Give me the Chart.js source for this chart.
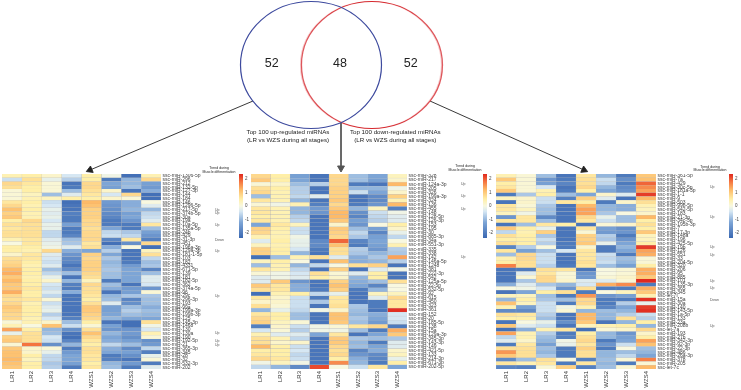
<!DOCTYPE html>
<html>
<head>
<meta charset="utf-8">
<script src="https://cdn.jsdelivr.net/npm/chart.js@4"></script>
<style>
html,body{margin:0;padding:0;background:#fff;overflow:hidden;}
#page{position:relative;width:741px;height:390px;}
canvas{position:absolute;}
</style>
</head>
<body>
<div id="page">
	<canvas id="overlay" width="741" height="390" style="left:0;top:0"></canvas>
	<canvas id="heatLeft" width="233" height="216" style="left:2px;top:174px"></canvas>
	<canvas id="heatMid" width="230" height="216" style="left:251px;top:174px"></canvas>
	<canvas id="heatRight" width="234" height="216" style="left:496px;top:174px"></canvas>
	<canvas id="barLeft" width="14" height="70" style="left:239px;top:174px"></canvas>
	<canvas id="barMid" width="14" height="70" style="left:483px;top:174px"></canvas>
	<canvas id="barRight" width="12" height="70" style="left:729px;top:174px"></canvas>
</div>
<script>
var sampleNames=['LR1','LR2','LR3','LR4','WZS1','WZS2','WZS3','WZS4'];
var legendTicks=[2,1,0,-1,-2];
var vennCounts=[52,48,52];

var leftGenes=['ssc-miR-1306-5p','ssc-miR-296','ssc-miR-212','ssc-miR-132-5p','ssc-miR-127-3p','ssc-miR-144','ssc-miR-184','ssc-miR-146','ssc-miR-1296-5p','ssc-miR-217-5p','ssc-miR-374b-5p','ssc-miR-30a','ssc-miR-19a','ssc-miR-10a-5p','ssc-miR-135a-5p','ssc-miR-24b','ssc-miR-429','ssc-miR-31-3p','ssc-miR-451','ssc-miR-196a-3p','ssc-miR-129a-3p','ssc-miR-181-1-5p','ssc-miR-103','ssc-miR-182','ssc-miR-4331','ssc-miR-671-5p','ssc-miR-139','ssc-miR-181','ssc-miR-182-5p','ssc-miR-362','ssc-miR-374a-5p','ssc-miR-96','ssc-miR-29c','ssc-miR-296-3p','ssc-miR-193','ssc-miR-99a','ssc-miR-199a-3p','ssc-miR-199b-3p','ssc-miR-125','ssc-miR-145-3p','ssc-miR-1468','ssc-miR-130','ssc-miR-130a','ssc-miR-190','ssc-miR-192-5p','ssc-miR-21','ssc-miR-365-3p','ssc-miR-345','ssc-miR-28','ssc-miR-32','ssc-miR-532-3p','ssc-miR-202'];
var midGenes=['ssc-miR-328','ssc-miR-217','ssc-miR-124a-3p','ssc-miR-205','ssc-miR-326','ssc-miR-199a-3p','ssc-miR-324','ssc-miR-136','ssc-miR-455','ssc-miR-148','ssc-miR-128-5p','ssc-miR-126-3p','ssc-miR-153','ssc-miR-195','ssc-miR-30','ssc-miR-885-3p','ssc-miR-34a','ssc-miR-551-3p','ssc-miR-335','ssc-miR-338','ssc-miR-142','ssc-miR-146a-5p','ssc-miR-1248','ssc-miR-381','ssc-miR-222-3p','ssc-miR-542','ssc-miR-125a-5p','ssc-miR-22-5p','ssc-miR-532-5p','ssc-miR-92','ssc-miR-615','ssc-miR-450','ssc-miR-323','ssc-miR-361','ssc-miR-152','ssc-miR-20','ssc-miR-185-5p','ssc-miR-138','ssc-miR-15a','ssc-miR-129a-3p','ssc-miR-345-3p','ssc-miR-143-3p','ssc-miR-149','ssc-miR-421-5p','ssc-miR-133','ssc-miR-214-3p','ssc-miR-671-3p','ssc-miR-202-5p'];
var rightGenes=['ssc-miR-361-5p','ssc-miR-7a','ssc-miR-429','ssc-miR-30c-5p','ssc-miR-181a-3p','ssc-miR-1-1','ssc-miR-9','ssc-miR-503','ssc-miR-99b-5p','ssc-miR-542-5p','ssc-miR-183','ssc-miR-21-3p','ssc-miR-34c-3p','ssc-miR-195b-3p','ssc-miR-7','ssc-miR-17-3p','ssc-miR-148a','ssc-miR-196','ssc-miR-425-5p','ssc-miR-19b','ssc-miR-126','ssc-miR-551','ssc-miR-33','ssc-miR-204-5p','ssc-miR-320','ssc-miR-206','ssc-miR-95','ssc-miR-885','ssc-miR-101','ssc-miR-135-3p','ssc-miR-365','ssc-miR-345','ssc-let-7i','ssc-miR-15a','ssc-miR-30a','ssc-miR-140','ssc-miR-143-5p','ssc-miR-1a-5p','ssc-miR-133','ssc-miR-23a','ssc-miR-208b','ssc-let-7a','ssc-miR-193','ssc-miR-27b','ssc-miR-342-3p','ssc-miR-92-3p','ssc-miR-22-3p','ssc-miR-486','ssc-miR-26a-3p','ssc-miR-378','ssc-miR-205','ssc-let-7c'];

var leftTrend=['','','','','','','','','','Up','Up','','','Up','','','','Down','','','Up','','','','','','','','','','','','Up','','','','','','','','','','Up','','Up','Up','','','','','',''];
var midTrend=['','','Up','','','Up','','','Up','','','','','','','','','','','','Up','','','','','','','','','','','','','','','','','','','','','','','','','','',''];
var rightTrend=['','','','Up','','','','','','','','Up','','','','','','','','Up','','Up','','','','','','','Up','','Up','','','Down','','','','','','','Up','','','','','','','','','','',''];

var leftValues=[
[0.4,0.5,0.2,-0.4,0.5,-0.1,-2.2,0.4],
[-0.5,0.7,-0.2,-0.7,0.5,-2,-1,0.8],
[0.8,0.6,0.1,-2.1,0.8,-1.2,-1,-1.3],
[0.7,0.5,0.1,-2,0.8,-1.3,-0.9,-1.4],
[0.1,0.5,0.1,-0.9,0.7,0.2,-2.1,-1.1],
[0.1,0.3,-0.9,-0.3,0.6,-0.4,0.8,-2.2],
[0.1,0.4,0.3,0.5,0.5,0.2,0.1,-2.2],
[0.6,0.5,-0.5,-2.2,1.2,-1.4,-1.1,0],
[0.8,0.4,-0.4,-2.1,1.1,-1.5,-1.1,-0.3],
[1.1,0.5,-0.2,-2.1,0.9,-1.6,-1,-1],
[0.9,0.4,-0.3,-1.9,0.9,-1.7,-1.3,-0.6],
[1,0.4,-0.2,-2,0.9,-1.8,-1.2,-0.5],
[0.5,0.8,-0.4,-2,0.8,-2,-1.5,-0.3],
[0.7,0.7,-0.2,-1.3,0.8,-2,-2,0.6],
[0.6,0.7,-0.2,-2,0.7,-1.2,-2,-0.9],
[0.7,0.7,-0.6,-2,0.8,-0.6,-0.8,-1.3],
[0.7,0.7,-0.6,-1.8,0.8,-0.5,-0.6,-1.5],
[0.4,0.6,-0.3,-0.9,0.8,-1.8,0.6,-1.9],
[0,0.6,-0.2,-0.8,0.6,-2.2,-1.6,0.8],
[0.5,0.5,-0.1,-0.3,0.7,-1.1,0,-2.2],
[0.5,0.4,0.8,-1.1,-1.2,-0.7,-2.1,0.3],
[0.2,0.6,-0.3,-1.5,0.9,-1.2,-2.1,0.7],
[0.7,0.6,-0.4,-1.7,0.8,-0.8,-2.1,-0.6],
[0.8,0.5,-0.5,-1.8,0.9,-1,-2,-0.9],
[0.9,0.4,-0.3,-2.1,0.9,-0.9,-1.4,-0.8],
[1.2,0.5,-0.9,-1.7,0.9,-0.8,-1.2,-1.8],
[1.3,0.5,-0.6,-0.9,0.8,-0.9,-1.2,-0.9],
[1,0.4,-0.2,-2.1,0.7,-0.9,-1.2,-0.3],
[1.2,0.5,0.2,-1,0.3,-2,-1.2,-0.3],
[1,0.5,-0.4,-1.9,0.8,-0.9,-2.1,-0.4],
[1,0.6,-0.5,-2,0.7,-1.1,-1.4,-1.5],
[1.3,0.5,-0.3,-1.1,0.7,-2.1,-1.3,0.1],
[0.8,0.5,-0.6,-2.1,0.6,-1,-0.8,-0.8],
[0.7,0.6,0.1,-2.1,0.5,-0.9,-1.8,-0.9],
[0.8,0.4,-0.5,-2.1,0.7,-0.3,-1.6,-0.9],
[1,0.5,-0.3,-2.1,1,-1.3,-0.9,-1.1],
[0.9,0.5,-0.2,-2.1,1,-1.3,-0.7,-0.9],
[0.8,0.5,-0.7,-2.1,0.9,-1.2,-0.9,-1],
[0.8,0.4,-0.4,-1.9,0.8,-1,-1.2,-1.2],
[0.1,0.4,0.2,-0.9,0.5,-2.1,-2.2,0.7],
[0.4,0,1.1,-0.5,0.1,-1.3,-2.2,-0.1],
[1.4,0.5,-1,-1.6,0.7,-1.5,-1.5,-0.4],
[-0.2,0.7,-0.9,-2.1,1.1,-1,-1.4,0.4],
[0.9,0.7,-0.4,-2.2,0.8,-1.2,-1.6,0.1],
[1,0.7,-0.5,-1.8,0.6,-1.1,-1.3,-1.6],
[0.1,1.8,-1.6,-1,0.5,-0.6,-0.9,-1.4],
[1,0.2,0.1,-2,0.7,-1.1,-1.7,-0.6],
[1.1,0.2,-0.2,-1.4,0.7,-1.2,-1.3,-1.9],
[1.1,0.5,-0.6,-1.2,0.6,-2,-1.6,-0.2],
[1.2,0.3,-0.6,-1.2,0.6,-1.9,-2.1,0.1],
[1.1,0.5,-0.8,-1.3,0.5,-1,-1.4,-2],
[1,0.5,-0.7,-2,0.6,-0.9,-2,-0.3]
];
var midValues=[
[0.8,0.5,-1.3,-2.1,0.8,-0.9,-1.2,0.3],
[1,0.5,-1.2,-2.1,0.8,-0.9,-1.3,0.2],
[0.1,0.2,-0.9,-0.7,0.8,-2,-2.1,1.2],
[0.7,0.5,-0.7,-2.1,0.9,-1,-1,-0.1],
[0.8,0.4,-0.7,-2.1,0.9,-0.5,-1.2,0.2],
[-0.9,0.4,-0.6,-0.3,0.9,-2.1,-1.7,0.9],
[0.6,0.4,-1,-2.1,1,-2.1,-1.7,0.4],
[0.1,-0.1,0.4,-1.9,0.8,-2,-1.5,1.2],
[0.6,0.4,-1,-1.4,1,-1,0.3,-1.9],
[0.6,0.4,-1,-1.5,1.2,-1.6,-0.5,-0.1],
[0.5,0.4,-0.7,-2.1,1.2,-1.8,-0.6,-0.3],
[0.6,0.4,-0.6,-2.1,1,-1.3,-0.7,-0.3],
[-1.2,0.6,0.3,-2.1,0.2,-1.5,0,0.5],
[0.9,0.5,-0.5,-2.1,1,-0.9,-1.3,0.2],
[0.8,0.4,-0.5,-2.1,0.9,-0.6,-1.8,-0.2],
[0.4,0.4,-0.1,-2.1,0.8,-0.8,-1.3,-0.6],
[-0.3,0.5,-0.2,-1.7,1.9,-1.8,-1.2,0],
[0.3,0.4,-0.2,-1.7,1.1,-2,-1.3,0.4],
[0.9,0.5,-0.4,-2,0.7,-0.7,-1.5,-0.7],
[0.9,0.5,-1,-2.1,0.7,-0.8,-1,-0.8],
[-2.2,-0.9,0.4,0.7,-0.3,-1.1,-0.8,1.4],
[0.3,0.5,0,-2.1,1.1,-1.1,-1,-0.7],
[-0.9,0.4,-1,-0.6,0,0.7,0.9,-2.1],
[0.6,0.4,-0.6,-2.1,0.9,-2.1,-0.3,-0.1],
[0.1,-0.1,-0.4,0.7,0.1,-0.3,0.5,-2.1],
[-0.3,-0.1,-0.3,0.5,0.2,-1,0.5,-2.1],
[-0.3,1,-1.5,-2.1,0.9,-1.1,-0.9,0.7],
[1,0.6,-1.1,-2.1,1.1,-1.2,-1.8,0],
[0.7,0.6,-1.1,-2,0.9,-2,-1,0],
[-2.2,0.4,0.5,-0.6,-0.2,-2.1,0.3,0.3],
[0.6,0.2,-0.5,-2,0.6,-2.1,-0.3,0.8],
[0.2,0.2,-0.5,-0.8,0.6,-2.1,-2,0.6],
[0.7,0.1,-0.5,-2.1,0.7,-0.8,-2,0.6],
[-1,-0.2,-0.6,-0.1,0.2,-0.9,-2.1,2.3],
[0.6,0.5,-0.9,-2.1,1.1,-1,-1.1,-0.4],
[0.8,0.5,-0.9,-2.1,1.1,-0.8,-1.2,-0.4],
[0.9,0.3,0.1,-2.1,1,-0.9,-1.4,-0.5],
[-1.9,0.2,-0.5,-0.1,0.1,0.6,0.8,-2],
[-0.4,0.1,-0.7,-0.1,-0.1,-0.9,-2,1.3],
[0.4,-0.3,-0.3,-1.2,0.6,-2.1,-1.2,1],
[0.7,0.4,-0.6,-2.1,1,-0.8,-0.9,-0.8],
[0.7,0.2,0.2,-2.1,1,-1,-2,-0.3],
[1.2,0.5,-0.5,-2.1,0.8,-0.9,-1.2,-0.3],
[0.5,0.5,-0.4,-2.1,0.7,-1.8,-1.1,0.2],
[0.6,0.5,-0.6,-2.1,0.8,-1.5,-1.7,0.3],
[0.8,0.6,-0.5,-2.1,0.5,-1.1,-1.8,-0.2],
[-0.1,0.3,-0.1,-2.1,1.6,-1,-2,0.5],
[-0.6,-1,-1.7,2.1,0,-0.5,0.6,-1.2]
];
var rightValues=[
[0.4,0.1,-0.9,-2.1,0.6,-1,-2,1],
[1,0.1,-1.5,-2,0.7,-0.5,-1.6,1.1],
[0.5,0.1,-1.3,-1.8,0.7,-0.6,-2,1.9],
[0.6,0.1,-0.4,-2.1,0.8,-1,-1.7,1.6],
[1,0.1,0.4,-2,0.5,-1.2,-1.6,1.4],
[-2,-0.8,0.5,-0.9,-1.2,0.2,-0.3,2.2],
[0.3,0.2,-0.5,-1.9,0.9,-0.3,-2.1,1.2],
[-2.1,0.2,-0.5,0.6,0.5,-2,0.2,0.7],
[0.6,0.1,-0.8,-2.1,1.2,-1,-1.1,0.4],
[0.6,0.3,-0.9,-2.1,1.4,-1,-1.1,0.3],
[0.3,-0.1,-0.9,-2.1,1.4,-0.8,0,0.2],
[-1.5,0.6,-1.7,-2.1,0.8,-0.2,-0.9,1.2],
[0.6,0.6,-0.9,-2.1,0.6,-0.5,-0.9,0.5],
[-2.1,-0.9,0.6,0.5,-2.1,0.1,0.2,0.7],
[1,0.5,-0.2,-2.1,0.6,-1.3,-1.6,0.5],
[-0.6,0.4,0.9,-2.1,0.1,-1.4,-1.5,1],
[0.7,0.5,-0.8,-2.1,0.9,-0.7,-2,0.3],
[0.5,0.5,-0.5,-2.1,0.9,-0.8,-1.5,0.3],
[0.7,0.5,-0.7,-2,1,-0.2,-1.2,0.5],
[-1.8,-0.7,0,-2,0.2,-2,-1,2.2],
[0.6,-1.3,-0.9,-0.4,0.6,-2,-1.2,1.4],
[-0.9,0.8,-0.5,-2.1,0.6,-0.5,-2,1.3],
[0.4,0.8,-0.5,-2.1,0.6,-0.6,-0.9,0.1],
[0.5,0.7,-0.5,-2.1,0.7,-0.5,-1,0.1],
[1.7,0.7,-0.7,-2,0.6,-0.9,-1.3,0.5],
[-2.1,-2,0.7,0.6,-2.1,0,0.1,1.3],
[-2.1,-0.3,0.6,0.1,-1.5,0,0.1,1.3],
[-2.1,0.1,0.8,0.1,-1.4,0.1,0.2,1],
[-2.1,-0.8,0.8,0.2,-0.3,-0.3,0.1,2.4],
[-1.1,-0.3,-0.8,-1,-0.4,1.3,1.6,-2],
[0,-0.1,-0.4,-1.5,0.7,-2,-2,1.3],
[-2.1,-1.2,0.5,0.7,-2,0,0.3,1],
[0.3,0.3,-0.9,-2,1.5,-1.5,-1.3,0.4],
[-1,0.5,-0.8,-0.9,0.8,-2,-2,2.3],
[1.1,0.3,-0.5,-2,0.8,-2,-0.7,-0.2],
[0.4,-1.3,-0.5,-0.1,0.4,-1.8,-1.2,2.2],
[-1.7,-1.7,-0.5,0.1,-1,-0.9,-1,2.3],
[0.7,0.6,-0.7,-2.1,1.2,-1,-0.7,-0.5],
[0.5,0.5,-0.9,-2.1,1.2,-1,0.7,-0.7],
[-2.1,0,-0.2,-1.6,1,-2.1,-1,0.5],
[1,-0.3,-0.5,-2.1,0.3,0.4,0.5,-1],
[-2.2,-1.1,0.4,0.6,-2.2,0.1,0.2,0.8],
[1.4,0.4,-0.7,-2,0.5,-1,-1.5,0.2],
[-0.6,0.4,-0.9,-1.9,0.7,-1,-1.3,0.5],
[-0.3,0.2,-1,-0.1,0.8,-2,-1.2,1.4],
[-2,0.6,-1.3,-0.2,0.6,-1.5,-0.5,1.1],
[0.7,0.7,-0.9,-2,0.9,-2,0,-0.9],
[1.5,0.7,-1,-2,0.7,-1,-0.9,-1],
[1,0.7,-0.8,-2,0.7,-1,-0.6,-1.2],
[-1.7,-0.9,0.7,0,-1.9,-0.9,0.1,1.7],
[0.6,0.4,0.6,-2,0.6,-1,-2,0.1],
[-1.8,-1.9,0.1,0.9,-1.9,-0.9,0.1,1.2]
];

var fontName='"Liberation Sans", Arial, sans-serif';
var colorStops=[[-2.35,'#3a68b2'],[-1.2,'#7da5d6'],[-0.4,'#d6e7f3'],[0,'#f8f8e0'],[0.5,'#ffefa8'],[1.2,'#fdba68'],[1.8,'#f4733f'],[2.35,'#e0281f']];

function hexToRgb(hex){
	return [parseInt(hex.substr(1,2),16),parseInt(hex.substr(3,2),16),parseInt(hex.substr(5,2),16)];
}
function heatColor(v){
	for(var i=0; i<colorStops.length-1; i++){
		var a=colorStops[i];
		var b=colorStops[i+1];
		if(v<=b[0]){
			var t=Math.max(0,(v-a[0])/(b[0]-a[0]));
			var c1=hexToRgb(a[1]);
			var c2=hexToRgb(b[1]);
			return 'rgb('+Math.round(c1[0]+(c2[0]-c1[0])*t)+','+Math.round(c1[1]+(c2[1]-c1[1])*t)+','+Math.round(c1[2]+(c2[2]-c1[2])*t)+')';
		}
	}
	return colorStops[colorStops.length-1][1];
}
function noPadding(scale){
	scale.paddingLeft=0;
	scale.paddingRight=0;
	scale.paddingTop=0;
	scale.paddingBottom=0;
}
function drawHeat(id, genes, trend, values, labelWidth){
	var datasets=[];
	for(var c=0; c<sampleNames.length; c++){
		var widths=[];
		var colors=[];
		for(var r=0; r<values.length; r++){
			widths.push(1);
			colors.push(heatColor(values[r][c]));
		}
		datasets.push({data:widths,backgroundColor:colors,borderColor:'rgba(150,150,150,0.45)',borderWidth:0.4,borderSkipped:false,barPercentage:1,categoryPercentage:1});
	}
	return new Chart(document.getElementById(id),{
		type:'bar',
		data:{labels:genes,datasets:datasets},
		options:{
			indexAxis:'y',
			responsive:false,
			animation:false,
			events:[],
			layout:{padding:0},
			plugins:{legend:{display:false},tooltip:{enabled:false},title:{display:false}},
			scales:{
				x:{
					type:'linear',stacked:true,min:0,max:sampleNames.length,
					grid:{display:false,drawTicks:false},border:{display:false},
					afterBuildTicks:function(scale){
						scale.ticks=sampleNames.map(function(n,i){return {value:i+0.5};});
					},
					afterFit:function(scale){noPadding(scale);scale.height=21;},
					ticks:{
						autoSkip:false,minRotation:90,maxRotation:90,padding:2,color:'#333',
						font:{family:fontName,size:6},
						callback:function(v){return sampleNames[Math.round(v-0.5)];}
					}
				},
				y:{
					type:'category',position:'right',stacked:true,offset:true,weight:0,
					grid:{display:false,drawTicks:false},border:{display:false},
					afterFit:function(scale){noPadding(scale);scale.width=labelWidth;},
					ticks:{autoSkip:false,padding:1.5,color:'#444',font:{family:fontName,size:5}}
				},
				trend:{
					type:'category',axis:'y',position:'right',labels:trend,offset:true,weight:1,
					grid:{display:false,drawTicks:false},border:{display:false},
					afterFit:function(scale){noPadding(scale);scale.width=30;},
					ticks:{autoSkip:false,padding:10,color:'#555',font:{family:fontName,size:3.5}}
				}
			}
		}
	});
}
function drawLegendBar(id, axisWidth){
	return new Chart(document.getElementById(id),{
		type:'bar',
		data:{labels:['z'],datasets:[{
			data:[[-2.35,2.35]],
			barPercentage:1,categoryPercentage:1,borderSkipped:false,
			backgroundColor:function(ctx){
				var area=ctx.chart.chartArea;
				if(!area){return '#fff';}
				var g=ctx.chart.ctx.createLinearGradient(0,area.bottom,0,area.top);
				colorStops.forEach(function(s){g.addColorStop((s[0]+2.35)/4.7,s[1]);});
				return g;
			}
		}]},
		options:{
			responsive:false,animation:false,events:[],
			layout:{padding:{top:0,bottom:6}},
			plugins:{legend:{display:false},tooltip:{enabled:false}},
			scales:{
				x:{display:false,offset:true},
				y:{
					min:-2.35,max:2.35,position:'right',
					grid:{display:false,drawTicks:false},border:{display:false},
					afterBuildTicks:function(scale){
						scale.ticks=legendTicks.map(function(t){return {value:t};});
					},
					afterFit:function(scale){noPadding(scale);scale.width=axisWidth;},
					ticks:{padding:2,color:'#444',font:{family:fontName,size:4.5},callback:function(v){return v;}}
				}
			}
		}
	});
}

// venn rings are stamped as point images so they stay slightly oval like the source
function ringImage(color){
	var c=document.createElement('canvas');
	c.width=144;c.height=130;
	var x=c.getContext('2d');
	x.strokeStyle=color;x.lineWidth=1.2;
	x.beginPath();x.ellipse(72,65,70.5,63.5,0,0,Math.PI*2);x.stroke();
	return c;
}
function arrowDataset(x1,y1,x2,y2,color,width){
	var angle=Math.atan2(x2-x1,-(y2-y1))*180/Math.PI;
	return {
		type:'scatter',showLine:true,data:[{x:x1,y:y1},{x:x2,y:y2}],
		borderColor:color,backgroundColor:color,borderWidth:width,
		pointStyle:'triangle',pointRadius:[0,4],pointRotation:[0,angle],clip:false
	};
}
var pageText=[
	{t:String(vennCounts[0]),x:271.7,y:64,size:12.5},
	{t:String(vennCounts[1]),x:340,y:64,size:12.5},
	{t:String(vennCounts[2]),x:410.7,y:64,size:12.5},
	{t:'Top 100 up-regulated miRNAs',x:288,y:132.7,size:6.2},
	{t:'(LR vs WZS during all stages)',x:288,y:140.5,size:6.2},
	{t:'Top 100 down-regulated miRNAs',x:395.3,y:132.7,size:6.2},
	{t:'(LR vs WZS during all stages)',x:395.3,y:140.5,size:6.2},
	{t:'Trend during',x:219,y:168.5,size:3.5},
	{t:'Muscle differentiation',x:219,y:172,size:3.5},
	{t:'Trend during',x:465,y:166.5,size:3.5},
	{t:'Muscle differentiation',x:465,y:170,size:3.5},
	{t:'Trend during',x:710,y:167,size:3.5},
	{t:'Muscle differentiation',x:710,y:170.5,size:3.5}
];
var textPlugin={
	id:'pageText',
	afterDatasetsDraw:function(chart){
		var ctx=chart.ctx;
		ctx.save();
		ctx.textAlign='center';
		ctx.textBaseline='middle';
		ctx.fillStyle='#222';
		pageText.forEach(function(p){
			ctx.font=p.size+'px '+fontName;
			ctx.fillText(p.t,chart.scales.x.getPixelForValue(p.x),chart.scales.y.getPixelForValue(p.y));
		});
		ctx.restore();
	}
};
new Chart(document.getElementById('overlay'),{
	type:'scatter',
	data:{datasets:[
		{data:[{x:311,y:65}],pointStyle:ringImage('#3d4a9e'),pointRadius:70,clip:false},
		{data:[{x:371.7,y:65}],pointStyle:ringImage('#d5282e'),pointRadius:70,clip:false},
		arrowDataset(253,101,90,170,'#222',0.9),
		arrowDataset(341,123,341,168,'#555',1),
		arrowDataset(430,101,584,170,'#222',0.9)
	]},
	options:{
		responsive:false,animation:false,events:[],
		layout:{padding:0,autoPadding:false},
		plugins:{legend:{display:false},tooltip:{enabled:false}},
		scales:{
			x:{type:'linear',display:false,min:0,max:741},
			y:{type:'linear',display:false,min:0,max:390,reverse:true}
		}
	},
	plugins:[textPlugin]
});

drawHeat('heatLeft',leftGenes,leftTrend,leftValues,44);
drawHeat('heatMid',midGenes,midTrend,midValues,44);
drawHeat('heatRight',rightGenes,rightTrend,rightValues,44);
drawLegendBar('barLeft',10);
drawLegendBar('barMid',10);
drawLegendBar('barRight',8);
</script>
</body>
</html>
